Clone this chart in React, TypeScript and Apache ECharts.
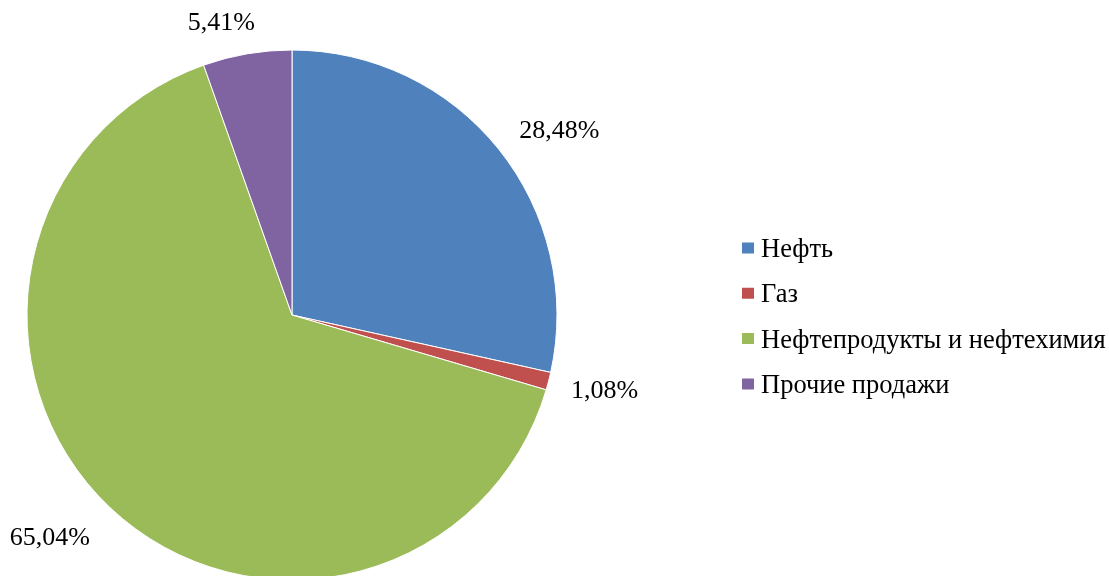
import React, { useEffect, useRef } from "react";
import * as echarts from "echarts";

const categories = ["Нефть", "Газ", "Нефтепродукты и нефтехимия", "Прочие продажи"];
const values = [28.48, 1.08, 65.04, 5.41];
const colors = ["#4F81BD", "#C0504D", "#9BBB59", "#8064A2"];

export default function App() {
  const ref = useRef<HTMLDivElement>(null);
  useEffect(() => {
    const chart = echarts.init(ref.current!, null, { renderer: "svg" });
    const labelShift = [
      [0, -7],
      [-2, 3],
      [-1, 15],
      [16, -13],
    ];
    chart.setOption({
      animation: false,
      textStyle: { fontFamily: "Liberation Serif" },
      legend: {
        orient: "vertical",
        left: 740,
        top: 234,
        padding: 0,
        itemWidth: 14,
        itemHeight: 13,
        itemGap: 17.3,
        icon: "rect",
        textStyle: { fontFamily: "Liberation Serif", fontSize: 26.5, color: "#000", padding: [0, 0, 0, 1], lineHeight: 28 },
        data: categories,
      },
      series: [
        {
          type: "pie",
          center: [292, 315],
          radius: 265,
          startAngle: 90,
          clockwise: true,
          data: categories.map((c, i) => ({ name: c, value: values[i], itemStyle: { color: colors[i] } })),
          itemStyle: { borderColor: "#fff", borderWidth: 1 },
          label: {
            show: true,
            position: "outside",
            formatter: (p: any) => values[p.dataIndex].toFixed(2).replace(".", ",") + "%",
            fontFamily: "Liberation Serif",
            fontSize: 26,
            color: "#000",
          },
          labelLine: { show: false, length: 20, length2: 0 },
          labelLayout: (p: any) => ({ dx: labelShift[p.dataIndex][0], dy: labelShift[p.dataIndex][1] }),
        },
      ],
    });
    return () => chart.dispose();
  }, []);
  return <div ref={ref} style={{ position: "fixed", left: 0, top: 0, width: 1109, height: 576 }} />;
}
